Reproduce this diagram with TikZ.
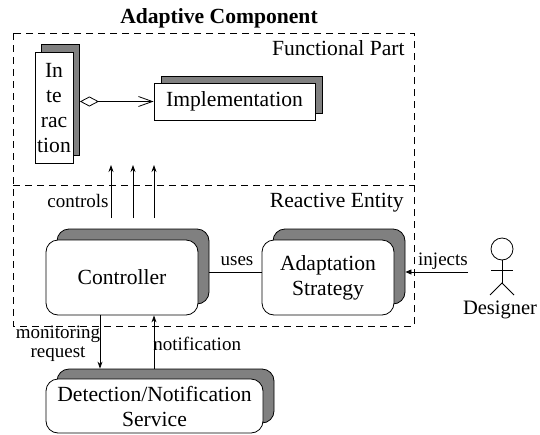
\documentclass[tikz,border=0pt]{standalone}
\usepackage{fontspec}
\setmainfont{Liberation Serif}
\usetikzlibrary{arrows.meta}
\definecolor{shadowgray}{gray}{0.5}

\begin{document}
\begin{tikzpicture}[x=1pt, y=-1pt, line width=.8pt,
	big/.style={font=\fontsize{21.6}{25}\selectfont},
	lbl/.style={font=\fontsize{19}{14}\selectfont, inner sep=0pt},
	part/.style={big, draw, fill=white, inner sep=0pt, align=center},
	entity/.style={part, rounded corners=12pt},
	back/.style={fill=shadowgray},
	frame/.style={dash pattern=on 7pt off 5pt},
	flow/.style={-{Stealth[length=7pt,width=5pt]}}]
	\useasboundingbox (0,0) rectangle (540,434);
	% frames
	\node[big, font=\fontsize{21.6}{25}\selectfont\bfseries, anchor=base] (title) at (219,23) {Adaptive Component};
	\draw[frame] (13,33) rectangle (414,326);
	\draw[frame] (13,185) -- (414,185);
	\node[big, inner sep=0pt, anchor=base east] (fpart) at (405,55) {Functional Part};
	\node[big, inner sep=0pt, anchor=base east] (rent) at (404,207) {Reactive Entity};
	% functional part
	\node[part, back, minimum width=38pt, minimum height=111pt] (inter-s) at (60.5,100) {};
	\node[part, minimum width=38pt, minimum height=111pt] (inter) at (54,108) {In\\te\\rac\\tion};
	\node[part, back, minimum width=161pt, minimum height=37pt] (impl-s) at (241.5,95) {};
	\node[part, minimum width=161pt, minimum height=37pt] (impl) at (234.5,101.5) {Implementation};
	\draw[{Diamond[open,length=19pt,width=10pt]}-{Straight Barb[length=14pt,width=10pt]}] (inter-s.east |- impl.west) -- (impl.west);
	% reactive entity
	\node[entity, back, minimum width=152pt, minimum height=75pt] (ctrl-s) at (133,266.5) {};
	\node[entity, minimum width=152pt, minimum height=75pt] (ctrl) at (122,277.5) {Controller};
	\node[entity, back, minimum width=132pt, minimum height=75pt] (strat-s) at (339,266.5) {};
	\node[entity, minimum width=132pt, minimum height=75pt] (strat) at (328,277.5) {Adaptation\\Strategy};
	\foreach \i/\x in {1/111,2/133,3/154} {
		\coordinate (ctl\i) at (\x,218);
		\coordinate (fp\i) at (\x,165);
		\draw[flow] (ctl\i) -- (fp\i);
	}
	\node[lbl, anchor=base east] (controls) at (109,207) {controls};
	\coordinate (link) at (0,272);
	\draw (ctrl-s.east |- link) -- (strat.west |- link);
	\node[lbl, anchor=base] (uses) at (237,265) {uses};
	% designer
	\node[circle, draw, minimum size=22pt, inner sep=0pt] (head) at (502,249) {};
	\coordinate (hip) at (502,283);
	\draw (head.south) -- (hip);
	\draw (491,270) -- (513,270);
	\draw (490,295) -- (hip) -- (514,295);
	\node[lbl, font=\fontsize{20.5}{25}\selectfont, anchor=base] (designer) at (500,314) {Designer};
	\coordinate (injsrc) at (468,272);
	\draw[-{Triangle[length=6pt,width=5pt]}] (injsrc) -- (strat-s.east |- injsrc);
	\node[lbl, anchor=base] (injects) at (443,265) {injects};
	% detection service
	\node[entity, back, minimum width=217pt, minimum height=54pt] (detect-s) at (165.5,396) {};
	\node[entity, minimum width=217pt, minimum height=54pt] (detect) at (154.5,406) {Detection/Notification\\Service};
	\coordinate (mon) at (100,0);
	\coordinate (note) at (154,0);
	\draw[flow] (ctrl.south -| mon) -- (detect-s.north -| mon);
	\draw[flow] (detect-s.north -| note) -- (ctrl.south -| note);
	\node[lbl, font=\fontsize{19}{18.5}\selectfont, align=center, anchor=base] (monreq) at (58,357) {monitoring\\request};
	\node[lbl, anchor=base west] (notif) at (153,350) {notification};
\end{tikzpicture}
\end{document}
